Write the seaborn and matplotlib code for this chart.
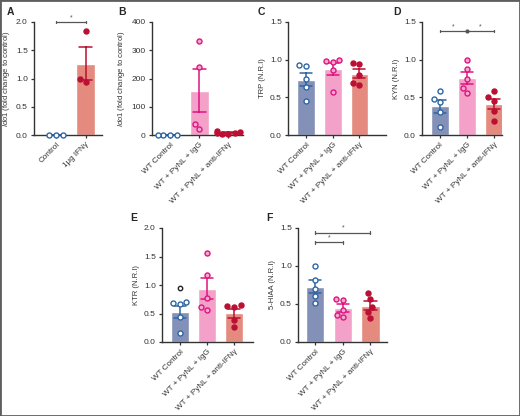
import numpy as np
import pandas as pd
import matplotlib
matplotlib.use("Agg")
import matplotlib.pyplot as plt
from matplotlib.patches import Rectangle
import seaborn as sns

sns.set_style("ticks")
plt.rcParams['font.family'] = ['Liberation Sans', 'DejaVu Sans']
plt.rcParams['mathtext.fontset'] = 'custom'
plt.rcParams['mathtext.it'] = 'Liberation Sans:italic'
plt.rcParams['mathtext.rm'] = 'Liberation Sans'

# ---------------- data ----------------
a_groups = ["Control", "1\u03bcg IFN\u03b3"]
a_control = [0, 0, 0]
a_ifng = [1.84, 0.99, 0.94]

groups = ["WT Control", "WT + PyNL + IgG", "WT + PyNL + anti-IFN\u03b3"]

b_control = [0, 0, 0, 0]
b_igg = [333, 239, 38, 20]
b_anti = [2, 6, 14, 8, 12, 3]

trp_control = [0.93, 0.92, 0.74, 0.64, 0.45]
trp_igg = [0.98, 0.99, 0.97, 0.86, 0.57]
trp_anti = [0.96, 0.94, 0.80, 0.69, 0.67]

kyn_control = [0.59, 0.48, 0.44, 0.30, 0.10]
kyn_igg = [0.99, 0.87, 0.75, 0.63, 0.56]
kyn_anti = [0.59, 0.50, 0.45, 0.32, 0.19]

ktr_control = [0.71, 0.69, 0.67, 0.43, 0.15]
ktr_control_excluded = [0.95]
ktr_igg = [1.56, 1.17, 0.77, 0.57, 0.62]
ktr_anti = [0.63, 0.65, 0.62, 0.38, 0.26]

hiaa_control = [1.00, 0.81, 0.70, 0.61, 0.51]
hiaa_igg = [0.57, 0.55, 0.42, 0.36, 0.33]
hiaa_anti = [0.65, 0.57, 0.46, 0.39, 0.31]

a_yticks = [0.0, 0.5, 1.0, 1.5, 2.0]
b_yticks = [0, 100, 200, 300, 400]
cd_yticks = [0.0, 0.5, 1.0, 1.5]
e_yticks = [0.0, 0.5, 1.0, 1.5, 2.0]

# ---------------- styles ----------------
BAR = ["#8391b8", "#f3a1c9", "#e48a7e"]
DOT = ["#2e66a3", "#de1580", "#bb0f33"]
FACE = ["white", "#f6a8cf", "#bb0f33"]
AXC = "#333333"

W, H = 520, 416
fig = plt.figure(figsize=(5.2, 4.16), dpi=100)
fig.patches.append(Rectangle((0, 0), 1, 1, transform=fig.transFigure,
                             fill=False, edgecolor="#5e5e5e", linewidth=2.0))


def add_ax(x0, x1, y0, y1):
    return fig.add_axes([x0 / W, 1 - y1 / H, (x1 - x0) / W, (y1 - y0) / H])


def panel(ax, order, values_list, styles, ylim, yticks, ylabel, xlim,
          tickfmt="{:.1f}"):
    for i, (g, vals) in enumerate(zip(order, values_list)):
        df = pd.DataFrame({"group": [g] * len(vals), "value": vals})
        bi, di, fi = styles[i]
        sns.barplot(data=df, x="group", y="value", order=order, color=BAR[bi],
                    errorbar="se", capsize=0.45, width=0.66,
                    err_kws={"color": DOT[di], "linewidth": 1.1},
                    saturation=1, ax=ax)
    for i, (g, vals) in enumerate(zip(order, values_list)):
        df = pd.DataFrame({"group": [g] * len(vals), "value": vals})
        bi, di, fi = styles[i]
        n0 = len(ax.collections)
        sns.swarmplot(data=df, x="group", y="value", order=order, size=3.6,
                      ax=ax, warn_thresh=1)
        for c in ax.collections[n0:]:
            c.set_facecolor(FACE[fi])
            c.set_edgecolor(DOT[di])
            c.set_linewidth(1.0)
            c.set_zorder(4)
            c.set_clip_on(False)
    ax.set_ylim(*ylim)
    ax.set_xlim(*xlim)
    ax.set_yticks(yticks)
    ax.set_yticklabels([tickfmt.format(t) for t in yticks], fontsize=6,
                       color=AXC)
    ax.set_xticks(range(len(order)))
    ax.set_xticklabels(order, rotation=45, ha="right", rotation_mode="anchor",
                       fontsize=5.9, color=AXC)
    ax.set_xlabel("")
    ax.set_ylabel(ylabel, fontsize=5.5, color=AXC, labelpad=3)
    sns.despine(ax=ax)
    for s in ["left", "bottom"]:
        ax.spines[s].set_color(AXC)
        ax.spines[s].set_linewidth(1.0)
    ax.tick_params(axis="both", length=2.5, width=0.9, color=AXC, pad=2)


def bracket(ax, x0, x1, y, mids=(), stars=(), color="#555555"):
    ax.plot([x0, x1], [y, y], color=color, lw=0.9, clip_on=False, zorder=5)
    h = (ax.get_ylim()[1] - ax.get_ylim()[0]) * 0.012
    for xx in [x0, x1]:
        ax.plot([xx, xx], [y - h, y + h], color=color, lw=0.9, clip_on=False)
    for xx in mids:
        ax.plot([xx], [y], marker="o", ms=2, color=color, clip_on=False)
    for xx in stars:
        ax.text(xx, y + h * 0.5, "*", ha="center", va="bottom", fontsize=5,
                color=color)


def label(x, y, s):
    fig.text(x / W, 1 - y / H, s, fontsize=7.5, fontweight="bold",
             ha="left", va="center")


# A
axA = add_ax(34, 102, 22, 135)
panel(axA, a_groups, [a_control, a_ifng], [(0, 0, 0), (2, 2, 2)],
      (0, 2.0), a_yticks, r"$\it{Ido1}$ (fold change to control)",
      (-0.75, 1.55))
bracket(axA, 0, 1, 2.0, stars=[0.5])
label(7, 12, "A")

# B
axB = add_ax(152, 243, 22, 135)
panel(axB, groups, [b_control, b_igg, b_anti], [(0, 0, 0), (1, 1, 1), (2, 2, 2)],
      (0, 400), b_yticks, r"$\it{Ido1}$ (fold change to control)",
      (-0.62, 2.5), tickfmt="{:.0f}")
label(118, 12, "B")

# C
axC = add_ax(288, 386, 22, 135)
panel(axC, groups, [trp_control, trp_igg, trp_anti],
      [(0, 0, 0), (1, 1, 1), (2, 2, 2)],
      (0, 1.5), cd_yticks, "TRP (N.R.I)", (-0.68, 3.0))
label(258, 12, "C")

# D
axD = add_ax(422, 502, 22, 135)
panel(axD, groups, [kyn_control, kyn_igg, kyn_anti],
      [(0, 0, 0), (1, 1, 1), (2, 2, 2)],
      (0, 1.5), cd_yticks, "KYN (N.R.I)", (-0.65, 2.3))
bracket(axD, 0, 2, 1.38, mids=[1], stars=[0.5, 1.5])
label(393, 12, "D")

# E
axE = add_ax(162, 253, 228, 342)
panel(axE, groups, [ktr_control, ktr_igg, ktr_anti],
      [(0, 0, 0), (1, 1, 1), (2, 2, 2)],
      (0, 2.0), e_yticks, "KTR (N.R.I)", (-0.67, 2.7))
axE.scatter([0] * len(ktr_control_excluded), ktr_control_excluded, s=10,
            facecolor="white", edgecolor="#222222", linewidth=1.0, zorder=4)
label(130, 218, "E")

# F
axF = add_ax(298, 387, 228, 342)
panel(axF, groups, [hiaa_control, hiaa_igg, hiaa_anti],
      [(0, 0, 0), (1, 1, 1), (2, 2, 2)],
      (0, 1.5), cd_yticks, "5-HIAA (N.R.I)", (-0.62, 2.6))
bracket(axF, 0, 2, 1.44, stars=[1])
bracket(axF, 0, 1, 1.31, stars=[0.5])
label(266, 218, "F")

fig.savefig("out.png", dpi=100, facecolor="white")
